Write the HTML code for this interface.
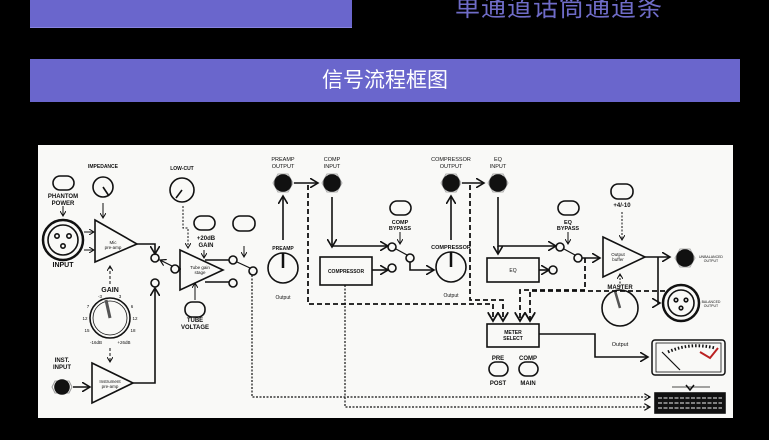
<!DOCTYPE html>
<html><head><meta charset="utf-8"><style>
body{margin:0;width:769px;height:440px;background:#000;overflow:hidden;position:relative;font-family:"Liberation Sans","Noto Sans CJK SC",sans-serif}
.b{position:absolute;background:#6a66cc}
</style></head><body>
<div class="b" style="left:30px;top:0;width:322px;height:27px;border-bottom:1px solid #8884e0"></div>
<div style="position:absolute;left:455px;top:-12px;font-size:25px;color:#6f6cc8;letter-spacing:1px;white-space:nowrap">单通道话筒通道条</div>
<div class="b" style="left:30px;top:59px;width:710px;height:43px;color:#fff;font-size:21px;line-height:43px;text-align:center">信号流程框图</div>
<svg style="position:absolute;left:0;top:0" width="769" height="440" viewBox="0 0 769 440">
<defs><marker id="a" markerWidth="6" markerHeight="6" refX="5" refY="3" orient="auto"><path d="M0,0 L5,3 L0,6" fill="none" stroke="#111" stroke-width="1"/></marker></defs>
<rect x="38" y="145" width="695" height="273" fill="#f9f9f7"/>
<g fill="none" stroke="#111" stroke-width="1.6" font-family="Liberation Sans" >
<rect x="53" y="176" width="21" height="14" rx="7"/>
<line x1="63" y1="206" x2="63" y2="216" marker-end="url(#a)" stroke-width="1"/>
<circle cx="63" cy="240" r="20" stroke-width="2.5"/><circle cx="63" cy="240" r="15"/>
<circle cx="57" cy="236" r="2.2"/><circle cx="69" cy="236" r="2.2"/><circle cx="63" cy="246" r="2.2"/>
<line x1="84" y1="232" x2="94" y2="232" marker-end="url(#a)" stroke-width="1"/>
<line x1="84" y1="250" x2="94" y2="250" marker-end="url(#a)" stroke-width="1"/>
<path d="M95,220 L137,244 L95,262 Z"/>
<circle cx="103" cy="187" r="10"/><line x1="103" y1="187" x2="109" y2="196"/>
<line x1="103" y1="203" x2="103" y2="218" marker-end="url(#a)" stroke-width="1"/>
<line x1="110" y1="284" x2="110" y2="266" stroke-dasharray="3,2" stroke-width="1" marker-end="url(#a)"/>
<circle cx="110" cy="318" r="20"/><circle cx="110" cy="318" r="17" stroke-width="0.8"/><line x1="110" y1="318" x2="106" y2="300" stroke-width="3" stroke="#555"/>
<line x1="110" y1="348" x2="110" y2="362" stroke-dasharray="3,2" stroke-width="1" marker-end="url(#a)"/>
<polygon points="55,381 69,381 72,387 69,393 55,393 52,387" stroke="#999" stroke-width="1"/>
<circle cx="62" cy="387" r="7" fill="#111"/>
<line x1="73" y1="387" x2="90" y2="387" marker-end="url(#a)"/>
<path d="M92,363 L133,383 L92,403 Z"/>
<path d="M133,383 L155,383 L155,288" marker-end="url(#a)"/>
<path d="M137,244 L155,244 L155,254" marker-end="url(#a)"/>
<circle cx="155" cy="258" r="4"/><circle cx="175" cy="269" r="4"/><circle cx="155" cy="283" r="4"/>
<line x1="172" y1="266" x2="160" y2="260" stroke-width="1.2" marker-end="url(#a)"/>
<line x1="179" y1="269" x2="181" y2="269"/>
<circle cx="182" cy="190" r="12"/><line x1="182" y1="190" x2="176" y2="198"/>
<path d="M183,206 L183,228 L188,228 L188,248" stroke-dasharray="2,1.5" stroke-width="1" marker-end="url(#a)"/>
<path d="M180,250 L223,270 L180,290 Z"/>
<rect x="194" y="216" width="21" height="14" rx="7"/>
<line x1="204" y1="250" x2="204" y2="258" stroke-width="1" marker-end="url(#a)"/>
<rect x="185" y="302" width="20" height="15" rx="7"/>
<line x1="195" y1="300" x2="195" y2="283" stroke-width="1" marker-end="url(#a)"/>
<path d="M205,260 L229,260"/><path d="M205,282 L229,282"/>
<circle cx="233" cy="260" r="4"/><circle cx="253" cy="271" r="4"/><circle cx="233" cy="283" r="4"/>
<line x1="237" y1="262" x2="250" y2="268" stroke-width="1.2"/>
<rect x="233" y="216" width="22" height="15" rx="7"/>
<line x1="244" y1="246" x2="244" y2="257" stroke-width="1" marker-end="url(#a)"/>
<polygon points="273,183 278,174 288,174 293,183 288,192 278,192" stroke="#aaa" stroke-width="1"/>
<circle cx="283" cy="183" r="8" fill="#111"/>
<polygon points="322,183 327,174 337,174 342,183 337,192 327,192" stroke="#aaa" stroke-width="1"/>
<circle cx="332" cy="183" r="8" fill="#111"/>
<path d="M294,183 L318,183" marker-end="url(#a)"/>
<line x1="283" y1="240" x2="283" y2="196" marker-end="url(#a)"/>
<circle cx="283" cy="268" r="15"/><line x1="283" y1="268" x2="283" y2="253" stroke-width="2.5"/>
<path d="M332,197 L332,245 M332,246 L332,247" marker-end="url(#a)"/>
<path d="M332,246 L388,246" marker-end="url(#a)"/>
<rect x="320" y="257" width="52" height="28"/>
<path d="M372,270 L388,270" marker-end="url(#a)"/>
<circle cx="392" cy="247" r="4"/><circle cx="410" cy="258" r="4"/><circle cx="392" cy="268" r="4"/>
<line x1="396" y1="249" x2="407" y2="255" stroke-width="1.2"/>
<rect x="390" y="201" width="21" height="14" rx="7"/>
<line x1="400" y1="232" x2="400" y2="244" stroke-width="1" marker-end="url(#a)"/>
<path d="M410,262 L410,270 L434,270" marker-end="url(#a)"/>
<circle cx="451" cy="267" r="15"/><line x1="451" y1="267" x2="451" y2="252" stroke-width="2.5"/>
<line x1="451" y1="240" x2="451" y2="196" marker-end="url(#a)"/>
<polygon points="441,183 446,174 456,174 461,183 456,192 446,192" stroke="#aaa" stroke-width="1"/>
<circle cx="451" cy="183" r="8" fill="#111"/>
<path d="M462,183 L484,183" marker-end="url(#a)"/>
<polygon points="488,183 493,174 503,174 508,183 503,192 493,192" stroke="#aaa" stroke-width="1"/>
<circle cx="498" cy="183" r="8" fill="#111"/>
<path d="M498,197 L498,246 L556,246" marker-end="url(#a)"/>
<path d="M498,246 L498,254" marker-end="url(#a)"/>
<rect x="487" y="258" width="52" height="24"/>
<path d="M539,270 L549,270" marker-end="url(#a)"/><circle cx="553" cy="270" r="4"/>
<circle cx="560" cy="247" r="4"/><circle cx="578" cy="258" r="4"/>
<line x1="564" y1="249" x2="575" y2="255" stroke-width="1.2"/>
<rect x="558" y="201" width="21" height="14" rx="7"/>
<line x1="568" y1="232" x2="568" y2="244" stroke-width="1" marker-end="url(#a)"/>
<path d="M582,258 L600,258" marker-end="url(#a)"/>
<rect x="611" y="184" width="22" height="15" rx="7"/>
<line x1="622" y1="212" x2="622" y2="240" stroke-dasharray="2,1.5" stroke-width="1" marker-end="url(#a)"/>
<path d="M603,237 L645,257 L603,277 Z"/>
<path d="M645,257 L670,257" marker-end="url(#a)"/>
<path d="M658,257 L658,303 L660,303" marker-end="url(#a)"/>
<polygon points="675,258 680,249 690,249 695,258 690,267 680,267" stroke="#aaa" stroke-width="1"/>
<circle cx="685" cy="258" r="8" fill="#111"/>
<circle cx="681" cy="303" r="18" stroke-width="2.5"/><circle cx="681" cy="303" r="13"/>
<circle cx="676" cy="300" r="1.8"/><circle cx="686" cy="300" r="1.8"/><circle cx="681" cy="308" r="1.8"/>
<line x1="620" y1="287" x2="620" y2="274" stroke-dasharray="2,1.5" stroke-width="1" marker-end="url(#a)"/>
<circle cx="620" cy="308" r="18"/><line x1="620" y1="308" x2="615" y2="291" stroke-width="2.5" stroke="#555"/>
<rect x="487" y="324" width="52" height="23"/>
<path d="M539,334 L595,334 L595,357 L648,357" marker-end="url(#a)"/>
<rect x="652" y="340" width="73" height="35" rx="3" stroke-width="1.5"/><rect x="656" y="343" width="65" height="29" stroke-width="0.8"/>
<line x1="662" y1="352" x2="680" y2="370" stroke-width="1.2"/>
<path d="M700,352 L710,358 L718,348" stroke="#b22" stroke-width="2"/>
<path d="M668,352 Q690,342 715,348" stroke-dasharray="1.5,2" stroke-width="3"/>
<g stroke-dasharray="5,3" stroke-width="1.8">
<path d="M308,185 L308,304 L493,304 L493,321" marker-end="url(#a)"/>
<path d="M470,185 L470,300 L503,300 L503,321" marker-end="url(#a)"/>
<path d="M585,258 L585,290 L520,290 L520,321" marker-end="url(#a)"/>
<path d="M665,291 L530,291 L530,321" marker-end="url(#a)"/>
</g>
<g stroke-dasharray="2,1.5" stroke-width="1.2">
<path d="M252,275 L252,397 L650,397" marker-end="url(#a)"/>
<path d="M345,285 L345,407 L650,407" marker-end="url(#a)"/>
</g>
<rect x="489" y="362" width="19" height="14" rx="7"/><rect x="519" y="362" width="19" height="14" rx="7"/>
<rect x="655" y="393" width="70" height="20" fill="#111"/>
<g stroke="#eee" stroke-width="1" stroke-dasharray="4,1.5"><line x1="658" y1="398" x2="722" y2="398"/><line x1="658" y1="403" x2="722" y2="403"/><line x1="658" y1="408" x2="722" y2="408"/></g>
<path d="M686,385 L690,390 L694,385" stroke-width="1.5"/><line x1="672" y1="387" x2="710" y2="387" stroke-width="0.8"/>
</g>
<g font-family="Liberation Sans" font-weight="bold" fill="#111" font-size="6" text-anchor="middle">
<text x="63" y="198">PHANTOM</text><text x="63" y="205">POWER</text>
<text x="63" y="267" font-size="7">INPUT</text>
<text x="103" y="168" font-size="5">IMPEDANCE</text>
<text x="113" y="244" font-size="4.5" font-weight="normal">Mic</text><text x="113" y="249" font-size="4.5" font-weight="normal">pre-amp</text>
<text x="110" y="292" font-size="7">GAIN</text>
<g font-size="4.5" font-weight="normal"><text x="100" y="298">-3</text><text x="120" y="298">3</text><text x="88" y="308">7</text><text x="132" y="308">6</text><text x="85" y="320">12</text><text x="135" y="320">12</text><text x="87" y="332">15</text><text x="133" y="332">18</text><text x="96" y="344">-16dB</text><text x="124" y="344">+26dB</text></g>
<text x="62" y="362">INST.</text><text x="62" y="369">INPUT</text>
<text x="110" y="383" font-size="4.5" font-weight="normal">Instrument</text><text x="110" y="388" font-size="4.5" font-weight="normal">pre-amp</text>
<text x="182" y="170" font-size="5">LOW-CUT</text>
<text x="200" y="269" font-size="4.5" font-weight="normal">Tube gain</text><text x="200" y="274" font-size="4.5" font-weight="normal">stage</text>
<text x="206" y="240">+20dB</text><text x="206" y="247">GAIN</text>
<text x="195" y="322">TUBE</text><text x="195" y="329">VOLTAGE</text>
<text x="283" y="161" font-size="5.5" font-weight="normal">PREAMP</text><text x="283" y="168" font-size="5.5" font-weight="normal">OUTPUT</text>
<text x="332" y="161" font-size="5.5" font-weight="normal">COMP</text><text x="332" y="168" font-size="5.5" font-weight="normal">INPUT</text>
<text x="283" y="250" font-size="5">PREAMP</text><text x="283" y="299" font-size="5" font-weight="normal">Output</text>
<text x="346" y="273" font-size="5">COMPRESSOR</text>
<text x="400" y="224" font-size="5.5">COMP</text><text x="400" y="230" font-size="5.5">BYPASS</text>
<text x="451" y="249" font-size="5.5">COMPRESSOR</text><text x="451" y="297" font-size="5" font-weight="normal">Output</text>
<text x="451" y="161" font-size="5.5" font-weight="normal">COMPRESSOR</text><text x="451" y="168" font-size="5.5" font-weight="normal">OUTPUT</text>
<text x="498" y="161" font-size="5.5" font-weight="normal">EQ</text><text x="498" y="168" font-size="5.5" font-weight="normal">INPUT</text>
<text x="513" y="272" font-size="5" font-weight="normal">EQ</text>
<text x="568" y="224" font-size="5.5">EQ</text><text x="568" y="230" font-size="5.5">BYPASS</text>
<text x="622" y="207" font-size="6">+4/-10</text>
<text x="618" y="256" font-size="4.5" font-weight="normal">Output</text><text x="618" y="261" font-size="4.5" font-weight="normal">buffer</text>
<text x="620" y="289" font-size="6">MASTER</text><text x="620" y="346" font-size="5.5" font-weight="normal">Output</text>
<text x="711" y="258" font-size="3.5" font-weight="normal">UNBALANCED</text><text x="711" y="262" font-size="3.5" font-weight="normal">OUTPUT</text>
<text x="711" y="303" font-size="3.5" font-weight="normal">BALANCED</text><text x="711" y="307" font-size="3.5" font-weight="normal">OUTPUT</text>
<text x="513" y="334" font-size="5">METER</text><text x="513" y="340" font-size="5">SELECT</text>
<text x="498" y="360" font-size="6">PRE</text><text x="498" y="385" font-size="6">POST</text>
<text x="528" y="360" font-size="6">COMP</text><text x="528" y="385" font-size="6">MAIN</text>
</g>
</svg>
</body></html>
